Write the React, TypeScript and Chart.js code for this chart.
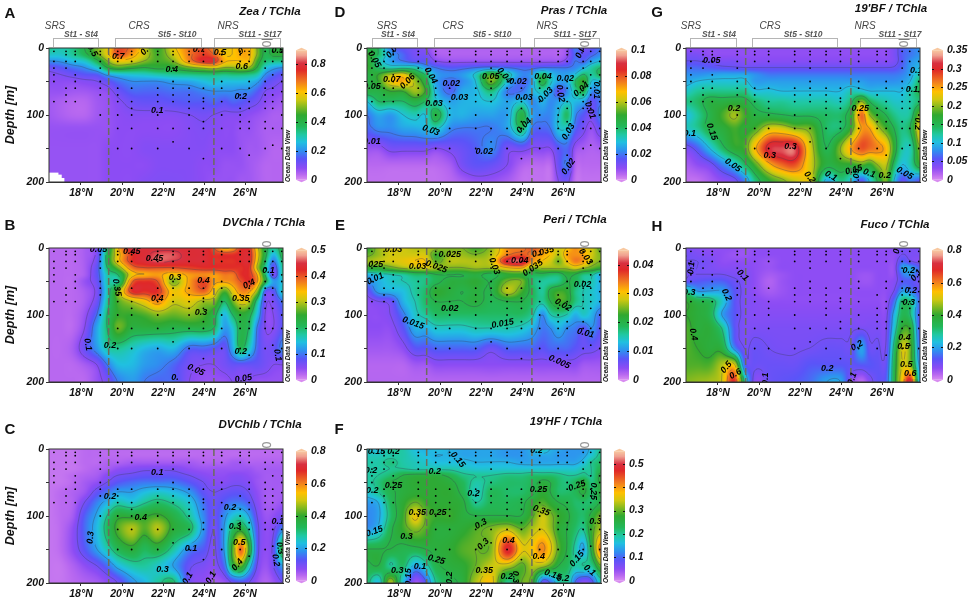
import { Chart, registerables, type Plugin } from 'chart.js';
import { useEffect, useRef, type FC } from 'react';

Chart.register(...registerables);

const FONT = '"Liberation Sans", Arial, sans-serif';

// grid the contour sections were read on
const gridLats = [16.44, 17, 17.6, 18.2, 18.8, 19.3, 19.8, 20.5, 21.1, 21.75, 22.5, 23.3, 24, 24.5, 25, 25.4, 25.8, 26.2, 26.6, 27, 27.4, 27.85];
const gridDepths = [0, 10, 20, 30, 40, 50, 65, 80, 100, 120, 150, 175, 200];

const stationLats = [16.68, 17.27, 17.72, 18.94, 19.79, 20.47, 21.74, 22.49, 23.27, 23.97, 24.86, 25.76, 26.2, 26.98, 27.35, 27.79];
const stationDepths = [
  [5, 20, 30, 40, 50, 80],
  [5, 10, 20, 30, 60, 70, 80],
  [5, 10, 20, 40, 50, 60, 80],
  [5, 10, 20, 30, 50, 60, 70, 100],
  [5, 10, 20, 60, 70, 80, 100, 120, 150],
  [5, 10, 20, 60, 80, 90, 100, 120, 150],
  [5, 10, 20, 60, 70, 80, 100, 120, 150],
  [5, 10, 20, 30, 50, 60, 70, 80, 120, 140],
  [5, 10, 20, 60, 70, 80, 90, 100, 120, 150],
  [5, 10, 20, 60, 75, 80, 90, 110, 120, 165],
  [5, 10, 20, 50, 60, 80, 100, 120, 150],
  [5, 10, 20, 70, 90, 100, 110, 120, 150],
  [5, 10, 20, 50, 60, 80, 90, 110, 120, 160],
  [5, 20, 30, 50, 60, 70, 80, 90, 110, 120, 150],
  [5, 20, 40, 60, 70, 80, 90, 120, 145],
  [5, 20, 40, 50, 65, 80, 100, 120, 150],
];
const latTicks = [18, 20, 22, 24, 26];
const depthTicks = [0, 50, 100, 150, 200];
const regionBounds = [19.35, 24.48];

const zeaValues = [
  [.33, .3, .33, .4, .5, .58, .72, .68, .55, .45, .58, .68, .72, .65, .58, .6, .63, .62, .5, .38, .42, .42],
  [.28, .28, .32, .38, .48, .58, .72, .64, .55, .46, .55, .68, .74, .7, .6, .6, .63, .62, .5, .38, .42, .42],
  [.2, .21, .25, .28, .38, .5, .58, .56, .5, .46, .5, .66, .76, .75, .62, .6, .6, .6, .45, .35, .33, .33],
  [.12, .14, .17, .2, .27, .4, .45, .42, .4, .42, .42, .48, .52, .54, .5, .5, .52, .5, .4, .27, .22, .2],
  [.09, .1, .12, .14, .15, .22, .25, .27, .28, .3, .32, .33, .34, .34, .33, .34, .34, .33, .3, .2, .16, .13],
  [.08, .08, .08, .09, .1, .13, .17, .2, .2, .2, .22, .23, .26, .28, .26, .26, .26, .25, .22, .15, .12, .1],
  [.07, .07, .06, .06, .07, .08, .12, .16, .16, .16, .17, .17, .19, .2, .2, .2, .19, .19, .15, .1, .09, .08],
  [.06, .05, .04, .04, .06, .07, .09, .12, .13, .13, .14, .15, .15, .16, .14, .16, .15, .13, .11, .08, .07, .06],
  [.06, .05, .04, .04, .06, .07, .08, .09, .09, .09, .09, .1, .11, .1, .09, .09, .09, .08, .07, .06, .05, .05],
  [.07, .07, .07, .07, .07, .07, .08, .08, .08, .08, .08, .09, .095, .09, .08, .08, .07, .07, .06, .05, .05, .05],
  [.07, .07, .07, .07, .07, .08, .08, .08, .09, .09, .09, .09, .09, .08, .08, .08, .07, .06, .06, .05, .04, .04],
  [.07, .07, .07, .07, .07, .08, .08, .08, .08, .09, .09, .09, .08, .08, .07, .07, .07, .06, .05, .04, .04, .04],
  [.07, .07, .07, .07, .07, .08, .08, .08, .09, .095, .095, .09, .08, .07, .07, .07, .06, .06, .05, .04, .04, .04],
];
const dvChlaValues = [
  [.02, .02, .02, .03, .06, .2, .34, .45, .44, .44, .44, .44, .44, .4, .34, .36, .42, .42, .32, .22, .18, .22],
  [.02, .02, .02, .03, .06, .22, .33, .42, .44, .46, .46, .44, .44, .42, .42, .42, .43, .43, .33, .22, .14, .22],
  [.02, .02, .02, .03, .07, .22, .33, .42, .44, .46, .45, .44, .44, .42, .42, .42, .43, .43, .32, .2, .1, .2],
  [.02, .02, .02, .03, .08, .2, .27, .38, .4, .4, .4, .41, .42, .42, .42, .42, .42, .42, .3, .18, .07, .18],
  [.02, .02, .02, .03, .08, .17, .2, .33, .35, .36, .33, .36, .37, .36, .38, .38, .42, .42, .35, .2, .06, .18],
  [.02, .02, .02, .04, .07, .17, .18, .39, .42, .4, .28, .36, .41, .36, .36, .37, .4, .42, .36, .22, .12, .15],
  [.02, .02, .02, .03, .06, .17, .28, .42, .42, .42, .33, .36, .39, .33, .26, .32, .37, .36, .28, .08, .08, .16],
  [.02, .02, .02, .03, .07, .18, .26, .3, .33, .37, .31, .32, .29, .28, .2, .27, .32, .3, .18, .06, .06, .1],
  [.02, .02, .02, .04, .1, .2, .25, .25, .26, .28, .27, .28, .26, .22, .14, .2, .24, .22, .14, .05, .05, .08],
  [.02, .02, .02, .05, .13, .2, .27, .23, .23, .23, .22, .22, .22, .2, .12, .15, .22, .2, .1, .05, .05, .08],
  [.02, .02, .03, .07, .12, .17, .18, .16, .14, .13, .14, .09, .09, .08, .07, .13, .21, .16, .09, .06, .07, .11],
  [.02, .02, .02, .03, .05, .1, .14, .14, .12, .11, .09, .06, .05, .05, .06, .07, .07, .07, .07, .06, .05, .05],
  [.02, .02, .02, .02, .04, .06, .1, .12, .1, .09, .09, .05, .04, .04, .04, .05, .05, .05, .04, .04, .04, .04],
];
const dvChlbValues = [
  [.02, .02, .02, .03, .03, .03, .03, .03, .03, .03, .03, .03, .03, .03, .03, .03, .03, .03, .03, .03, .03, .03],
  [.02, .02, .02, .03, .03, .03, .03, .03, .03, .03, .03, .03, .03, .03, .03, .03, .03, .03, .03, .03, .03, .03],
  [.02, .02, .02, .03, .03, .04, .04, .05, .05, .05, .05, .05, .04, .04, .04, .05, .05, .04, .04, .04, .04, .04],
  [.02, .02, .02, .03, .04, .05, .07, .08, .09, .09, .09, .07, .06, .06, .06, .06, .06, .06, .05, .05, .05, .05],
  [.02, .02, .03, .04, .05, .08, .1, .11, .12, .12, .12, .1, .08, .07, .07, .08, .08, .07, .06, .05, .05, .05],
  [.02, .02, .03, .05, .07, .1, .13, .15, .16, .16, .16, .13, .1, .08, .08, .09, .09, .08, .06, .05, .05, .05],
  [.02, .03, .04, .06, .12, .16, .2, .2, .23, .25, .23, .19, .12, .1, .11, .12, .12, .1, .07, .05, .05, .05],
  [.02, .03, .04, .1, .17, .22, .27, .25, .29, .32, .29, .24, .15, .11, .14, .16, .16, .13, .08, .05, .05, .06],
  [.02, .03, .05, .14, .21, .3, .38, .38, .39, .41, .36, .28, .17, .11, .18, .24, .26, .2, .1, .06, .07, .1],
  [.02, .03, .07, .15, .23, .33, .42, .48, .42, .48, .38, .33, .18, .1, .2, .33, .38, .28, .12, .07, .09, .18],
  [.02, .03, .07, .13, .2, .27, .34, .38, .33, .36, .28, .17, .13, .09, .2, .42, .62, .4, .13, .07, .12, .38],
  [.02, .02, .04, .07, .1, .15, .22, .27, .28, .25, .2, .11, .09, .08, .15, .36, .42, .25, .1, .06, .1, .2],
  [.02, .02, .03, .04, .05, .07, .1, .18, .22, .28, .32, .1, .07, .05, .06, .1, .12, .1, .06, .04, .06, .1],
];
const prasValues = [
  [.045, .04, .02, .015, .012, .01, .005, .005, .005, .005, .005, .005, .005, .005, .005, .005, .005, .008, .02, .012, .015, .02],
  [.05, .04, .025, .018, .012, .012, .006, .005, .005, .005, .005, .005, .005, .005, .005, .005, .005, .008, .018, .015, .018, .022],
  [.05, .035, .025, .02, .016, .016, .01, .008, .008, .008, .008, .008, .008, .008, .008, .008, .008, .012, .02, .018, .025, .03],
  [.05, .04, .035, .037, .035, .025, .02, .017, .018, .02, .022, .02, .018, .018, .02, .02, .02, .02, .022, .028, .035, .04],
  [.045, .05, .06, .065, .05, .04, .025, .022, .024, .032, .052, .035, .022, .025, .04, .03, .025, .025, .03, .04, .035, .042],
  [.045, .05, .065, .07, .058, .045, .025, .018, .022, .03, .055, .03, .018, .025, .045, .032, .025, .026, .04, .05, .03, .03],
  [.045, .045, .05, .05, .058, .05, .028, .018, .026, .028, .038, .02, .02, .027, .032, .025, .015, .022, .035, .042, .022, .025],
  [.03, .04, .04, .04, .045, .04, .032, .025, .027, .028, .03, .025, .03, .022, .027, .022, .025, .03, .028, .025, .015, .02],
  [.02, .026, .024, .03, .033, .03, .045, .028, .027, .025, .025, .025, .045, .025, .022, .022, .03, .04, .022, .016, .012, .022],
  [.018, .022, .022, .025, .026, .028, .032, .022, .02, .02, .02, .025, .04, .02, .018, .02, .03, .03, .018, .012, .008, .014],
  [.008, .008, .012, .012, .012, .012, .01, .012, .014, .017, .022, .012, .013, .01, .01, .01, .016, .018, .008, .006, .005, .006],
  [.004, .004, .004, .004, .004, .004, .004, .006, .012, .015, .014, .01, .005, .004, .004, .004, .014, .02, .005, .004, .004, .004],
  [.003, .003, .003, .003, .003, .003, .003, .004, .006, .008, .008, .006, .003, .003, .003, .003, .01, .012, .003, .003, .003, .003],
];
const periValues = [
  [.022, .026, .028, .028, .027, .027, .026, .025, .025, .023, .026, .033, .034, .036, .033, .03, .028, .03, .033, .03, .028, .024],
  [.024, .026, .028, .028, .028, .028, .023, .026, .026, .025, .027, .034, .036, .034, .032, .03, .027, .032, .033, .032, .028, .025],
  [.026, .027, .028, .029, .03, .03, .024, .027, .027, .027, .028, .04, .041, .033, .03, .028, .025, .03, .034, .032, .027, .025],
  [.022, .022, .024, .026, .027, .028, .026, .025, .025, .026, .026, .03, .031, .025, .026, .026, .026, .026, .028, .026, .024, .022],
  [.012, .014, .015, .016, .018, .018, .02, .02, .02, .021, .019, .022, .022, .019, .019, .018, .018, .021, .02, .017, .016, .012],
  [.01, .012, .014, .015, .016, .017, .019, .021, .021, .022, .02, .025, .025, .018, .016, .016, .017, .02, .019, .016, .015, .012],
  [.006, .011, .012, .013, .016, .018, .022, .021, .02, .021, .02, .027, .023, .019, .016, .021, .023, .022, .017, .015, .014, .012],
  [.004, .005, .006, .012, .015, .018, .02, .02, .02, .021, .019, .02, .02, .018, .016, .02, .023, .022, .017, .015, .014, .012],
  [.004, .004, .005, .009, .014, .016, .018, .018, .018, .018, .018, .018, .018, .016, .01, .015, .016, .015, .012, .014, .012, .008],
  [.004, .004, .004, .007, .012, .012, .014, .014, .014, .015, .015, .015, .014, .012, .009, .01, .012, .01, .009, .007, .01, .007],
  [.003, .003, .003, .004, .007, .007, .008, .008, .008, .008, .006, .008, .008, .008, .007, .008, .008, .008, .007, .006, .006, .005],
  [.002, .002, .002, .002, .003, .003, .004, .004, .004, .004, .004, .004, .004, .004, .004, .004, .004, .004, .004, .003, .003, .003],
  [.002, .002, .002, .002, .002, .002, .002, .002, .002, .002, .002, .002, .002, .002, .002, .002, .002, .002, .002, .002, .002, .002],
];
const hfValues = [
  [.17, .16, .2, .19, .16, .15, .16, .15, .14, .14, .14, .13, .13, .15, .18, .15, .14, .13, .13, .13, .16, .2],
  [.18, .18, .19, .19, .17, .16, .15, .15, .14, .14, .14, .13, .13, .14, .14, .14, .13, .13, .13, .14, .17, .21],
  [.19, .19, .21, .19, .18, .17, .16, .16, .16, .15, .15, .15, .14, .14, .14, .14, .14, .14, .14, .16, .2, .22],
  [.19, .19, .2, .2, .19, .19, .19, .19, .18, .17, .17, .17, .17, .17, .17, .17, .17, .17, .17, .19, .2, .24],
  [.19, .2, .22, .25, .26, .26, .26, .24, .21, .2, .2, .21, .21, .22, .22, .22, .21, .2, .2, .21, .2, .26],
  [.19, .21, .25, .26, .27, .27, .27, .26, .23, .19, .21, .22, .22, .23, .26, .25, .22, .21, .23, .26, .21, .26],
  [.17, .2, .24, .26, .27, .27, .27, .27, .24, .18, .23, .22, .22, .24, .27, .25, .22, .22, .23, .26, .22, .26],
  [.13, .15, .23, .27, .3, .28, .27, .27, .26, .2, .23, .23, .24, .27, .29, .27, .25, .24, .22, .22, .22, .25],
  [.12, .14, .22, .28, .36, .3, .28, .28, .26, .25, .25, .25, .25, .29, .34, .31, .28, .26, .23, .22, .26, .31],
  [.13, .16, .24, .28, .31, .29, .26, .26, .27, .29, .31, .34, .3, .33, .35, .32, .27, .25, .22, .2, .28, .33],
  [.25, .25, .25, .24, .24, .25, .26, .27, .29, .3, .31, .48, .36, .37, .41, .36, .29, .25, .19, .14, .26, .42],
  [.24, .25, .2, .22, .14, .18, .24, .26, .27, .3, .34, .33, .29, .33, .32, .29, .25, .23, .19, .2, .2, .3],
  [.22, .16, .33, .16, .04, .09, .2, .24, .26, .33, .37, .2, .3, .28, .08, .1, .18, .2, .1, .05, .08, .18],
];
const bfValues = [
  [.03, .03, .03, .03, .03, .03, .03, .03, .03, .03, .03, .03, .03, .03, .03, .03, .03, .03, .04, .06, .07, .08],
  [.04, .04, .03, .03, .03, .03, .03, .03, .03, .03, .03, .03, .03, .03, .03, .03, .03, .03, .04, .06, .07, .08],
  [.05, .05, .045, .04, .04, .035, .035, .035, .035, .035, .035, .035, .035, .035, .035, .035, .035, .035, .04, .06, .08, .09],
  [.065, .065, .06, .055, .052, .05, .05, .05, .05, .05, .05, .05, .05, .05, .05, .05, .05, .05, .052, .065, .085, .1],
  [.08, .08, .085, .09, .09, .09, .08, .07, .07, .07, .07, .07, .07, .07, .07, .07, .07, .07, .07, .075, .09, .12],
  [.09, .1, .105, .105, .105, .105, .085, .085, .085, .085, .085, .085, .085, .085, .085, .08, .08, .08, .08, .085, .1, .14],
  [.11, .125, .13, .13, .13, .13, .105, .105, .1, .1, .1, .1, .1, .115, .11, .1, .1, .1, .1, .1, .12, .15],
  [.13, .14, .16, .16, .165, .16, .14, .125, .125, .12, .12, .12, .115, .14, .2, .15, .13, .12, .11, .11, .12, .14],
  [.1, .125, .155, .18, .205, .18, .16, .155, .15, .145, .145, .14, .14, .17, .27, .2, .17, .15, .13, .12, .13, .2],
  [.11, .125, .155, .165, .18, .17, .18, .22, .22, .2, .19, .14, .14, .18, .25, .25, .21, .18, .15, .13, .15, .23],
  [.04, .06, .1, .14, .17, .18, .24, .31, .32, .32, .22, .15, .2, .25, .28, .27, .26, .24, .17, .12, .12, .2],
  [.02, .03, .04, .07, .1, .14, .18, .24, .27, .28, .22, .16, .17, .17, .18, .17, .2, .21, .14, .1, .12, .17],
  [.01, .01, .02, .03, .04, .07, .13, .17, .19, .21, .22, .09, .13, .1, .05, .1, .15, .19, .1, .05, .07, .05],
];
const fucoValues = [
  [.09, .08, .07, .07, .07, .06, .07, .07, .07, .07, .07, .07, .07, .07, .07, .07, .07, .07, .08, .1, .09, .09],
  [.1, .09, .08, .07, .06, .06, .07, .07, .07, .07, .07, .07, .07, .07, .07, .07, .07, .07, .07, .1, .09, .09],
  [.1, .1, .09, .07, .07, .07, .07, .06, .07, .07, .07, .07, .07, .07, .07, .07, .07, .07, .07, .14, .1, .08],
  [.11, .1, .09, .08, .08, .08, .07, .06, .07, .07, .07, .07, .07, .07, .07, .07, .07, .07, .07, .2, .2, .14],
  [.1, .1, .1, .1, .09, .09, .07, .05, .06, .07, .07, .07, .07, .07, .06, .06, .07, .07, .07, .16, .18, .12],
  [.12, .13, .14, .14, .11, .09, .07, .04, .06, .07, .07, .07, .07, .07, .06, .06, .07, .07, .08, .13, .13, .1],
  [.3, .2, .2, .2, .13, .09, .07, .05, .06, .07, .07, .07, .07, .07, .07, .07, .07, .07, .1, .2, .17, .12],
  [.4, .36, .34, .25, .13, .09, .08, .07, .07, .07, .07, .07, .07, .07, .07, .07, .07, .07, .16, .32, .3, .14],
  [.4, .38, .35, .2, .13, .09, .08, .08, .08, .08, .08, .08, .08, .08, .08, .08, .08, .08, .22, .34, .3, .12],
  [.42, .38, .38, .3, .13, .09, .09, .09, .09, .09, .09, .09, .09, .095, .095, .09, .09, .09, .25, .4, .38, .12],
  [.42, .4, .38, .37, .18, .1, .11, .1, .095, .095, .1, .11, .11, .11, .2, .11, .11, .1, .32, .5, .42, .15],
  [.42, .42, .42, .48, .52, .15, .11, .11, .11, .11, .13, .13, .13, .12, .13, .13, .12, .12, .35, .5, .45, .18],
  [.45, .46, .47, .5, .68, .3, .08, .11, .12, .13, .15, .2, .2, .08, .03, .08, .12, .14, .36, .55, .7, .2],
];

type ContourLabel = [number, number, string, number?];

const zeaLabels: ContourLabel[] = [
  [19.82, 12, '0.7'], [23.76, 2, '0.7'], [24.78, 6, '0.5'], [25.84, 27, '0.6'], [22.42, 32, '0.4'],
  [25.79, 72, '0.2'], [21.72, 93, '0.1'], [18.55, 4, '0.5', 60], [21.1, 5, '0.', -45], [25.85, 4, '0.', -30], [27.6, 4, '0.5'],
];
const dvChlaLabels: ContourLabel[] = [
  [20.47, 5, '0.45'], [21.58, 16, '0.45'], [22.58, 44, '0.3'], [23.97, 49, '0.4'], [26.2, 54, '0.4', -25],
  [21.72, 75, '0.4'], [19.74, 59, '0.35', 80], [25.79, 76, '0.35'], [23.85, 96, '0.3'], [19.41, 146, '0.2'],
  [18.33, 144, '0.1', 80], [25.79, 154, '0.2'], [23.6, 182, '0.05', 25], [25.92, 195, '0.05', -10],
  [22.58, 193, '0.'], [27.14, 33, '0.1'], [27.58, 160, '0.1', 80], [18.85, 3, '0.05'],
];
const dvChlbLabels: ContourLabel[] = [
  [21.72, 35, '0.1'], [19.41, 71, '0.2'], [20.91, 103, '0.4'], [18.47, 132, '0.3', -85], [25.27, 88, '0.2'],
  [25.51, 115, '0.3'], [25.72, 140, '0.5'], [25.63, 173, '0.4', -50], [21.97, 180, '0.3'], [23.37, 148, '0.1'],
  [23.2, 193, '0.1', -60], [24.34, 192, '0.1', -60], [27.6, 108, '0.1'], [27.5, 166, '0.2', 80], [27.7, 148, '0.3', 80],
];
const prasLabels: ContourLabel[] = [
  [16.79, 17, '0.05', 60], [16.68, 57, '0.05'], [17.65, 47, '0.07'], [18.42, 50, '0.06', -45], [17.65, 6, '0.0', -50],
  [19.55, 41, '0.04', 60], [20.55, 53, '0.02'], [20.95, 74, '0.03'], [19.71, 83, '0.03'], [19.55, 123, '0.03', 20],
  [22.48, 43, '0.05'], [23.13, 41, '0.04', 50], [23.8, 50, '0.02'], [24.1, 74, '0.03'], [24.1, 116, '0.04', -45],
  [25.02, 42, '0.04'], [26.11, 46, '0.02'], [25.15, 70, '0.03', -45], [25.87, 68, '0.02', 80], [26.89, 62, '0.04', -40],
  [27.32, 93, '0.01', 70], [26.27, 125, '0.03', -60], [22.16, 154, '0.02'], [26.27, 177, '0.02', -55],
  [16.68, 140, '0.01'], [27.64, 63, '0.01', 90], [26.84, 6, '0.0', -70],
];
const periLabels: ContourLabel[] = [
  [17.73, 3, '0.03'], [20.48, 9, '0.025'], [18.9, 27, '0.03'], [19.82, 28, '0.025', 20], [16.68, 25, '0.025'],
  [22.65, 27, '0.03', 70], [23.89, 18, '0.04'], [24.53, 30, '0.035', -35], [25.02, 6, '0.035', -15], [27.1, 13, '0.03', 55],
  [16.84, 46, '0.01', -25], [26.95, 54, '0.02'], [26, 85, '0.02', 30], [20.48, 91, '0.02'], [18.69, 112, '0.015', 20],
  [23.05, 113, '0.015', -10], [27.1, 127, '0.01', 15], [25.82, 170, '0.005', 25],
];
const hfLabels: ContourLabel[] = [
  [16.9, 4, '0.15'], [17.73, 4, '0.2'], [24.7, 3, '0.2'], [20.87, 16, '0.15', 50], [19.74, 34, '0.2'], [16.63, 32, '0.2'],
  [17.73, 55, '0.25'], [16.7, 62, '0.2'], [21.63, 67, '0.2'], [24.8, 60, '0.25'], [26.68, 55, '0.25', -20], [18.89, 95, '0.35'],
  [19.89, 95, '0.25'], [24.94, 92, '0.35', 20], [22, 112, '0.3', -30], [27.58, 108, '0.3'], [16.8, 123, '0.15', -20],
  [18.37, 130, '0.3'], [22.11, 142, '0.3', -45], [23.34, 137, '0.4'], [24.82, 161, '0.4'], [19.82, 165, '0.25', 15],
  [22.16, 182, '0.35'], [17.92, 181, '0.3'], [19.02, 175, '0.1'], [18.45, 191, '0.15', -90], [20.45, 192, '0.2', -90],
  [25.5, 188, '0.15', 20], [26, 194, '0.2'], [26.68, 164, '0.15', -50], [27.5, 63, '0.25', 90], [23.26, 190, '0.2'],
  [23.69, 191, '0.3', 90], [27.3, 181, '0.1', 40],
];
const bfLabels: ContourLabel[] = [
  [17.7, 18, '0.05'], [18.78, 90, '0.2'], [17.7, 125, '0.15', 70], [16.62, 128, '0.1'], [18.73, 175, '0.05', 35],
  [21.53, 147, '0.3'], [20.52, 161, '0.3'], [24.94, 91, '0.25'], [22.47, 193, '0.2', 50], [23.5, 191, '0.1', 30],
  [24.62, 182, '0.15', -15], [24.75, 193, '0.05', -90], [25.37, 187, '0.1', 20], [26.13, 190, '0.2'], [27.1, 187, '0.05', 30],
  [27.46, 62, '0.1'], [27.75, 113, '0.2', 90], [27.67, 33, '0.1'],
];
const fucoLabels: ContourLabel[] = [
  [16.7, 30, '0.1', -85], [19.2, 41, '0.1', 45], [16.6, 66, '0.3'], [18.41, 70, '0.2', 65], [16.8, 129, '0.4', 80],
  [18.41, 178, '0.5', -50], [18.85, 188, '0.6', -30], [20.3, 195, '0.1', -90], [23.33, 180, '0.2'], [24.78, 146, '0.2', -30],
  [24.55, 195, '0.1', -70], [27.3, 34, '0.2'], [27.67, 41, '0.1', -50], [27.4, 63, '0.2'], [27.3, 81, '0.3'], [27.1, 134, '0.4'],
  [27.05, 147, '0.5'], [27.18, 174, '0.5'], [27.38, 188, '0.6'], [26.72, 5, '0', -80],
];

const zeaNoData = [[16.9, 186], [17.06, 189], [17.19, 194]];

// Ocean Data View rainbow, position on the bar -> colour
const paletteStops: [number, string][] = [
  [0, '#d88cf0'], [.04, '#b868f0'], [.09, '#8c4cf4'], [.16, '#5a54f8'], [.224, '#2f8ff0'], [.29, '#20c0e0'], [.35, '#20c8a0'],
  [.41, '#22b85a'], [.5, '#30a830'], [.56, '#80b820'], [.62, '#d0c810'], [.68, '#ffc000'], [.76, '#f07820'], [.85, '#e02828'],
  [.9, '#d83040'], [.96, '#f0a090'], [1, '#f8c8a0'],
];

const rgbOf = (hex: string) => [1, 3, 5].map((i) => parseInt(hex.slice(i, i + 2), 16));
const colorAt = (t: number) => {
  const v = Math.min(1, Math.max(0, t));
  let i = 0;
  while (i < paletteStops.length - 2 && paletteStops[i + 1][0] < v) i++;
  const [a, ca] = paletteStops[i];
  const [b, cb] = paletteStops[i + 1];
  const k = (v - a) / (b - a);
  const x = rgbOf(ca);
  const y = rgbOf(cb);
  return x.map((c, n) => c + (y[n] - c) * k);
};

const fractionIn = (arr: number[], v: number) => {
  if (v <= arr[0]) return 0;
  for (let i = 0; i < arr.length - 1; i++) {
    if (v <= arr[i + 1]) return i + (v - arr[i]) / (arr[i + 1] - arr[i]);
  }
  return arr.length - 1;
};

const spline = (a: number, b: number, c: number, d: number, t: number) =>
  b + 0.5 * t * (c - a + t * (2 * a - 5 * b + 4 * c - d + t * (3 * (b - c) + d - a)));

const sampleGrid = (rows: number[][], fx: number, fy: number) => {
  const ix = Math.min(Math.floor(fx), rows[0].length - 2);
  const iy = Math.min(Math.floor(fy), rows.length - 2);
  const line = (r: number) => {
    const row = rows[Math.max(0, Math.min(rows.length - 1, r))];
    const at = (c: number) => row[Math.max(0, Math.min(row.length - 1, c))];
    return spline(at(ix - 1), at(ix), at(ix + 1), at(ix + 2), fx - ix);
  };
  return Math.max(0, spline(line(iy - 1), line(iy), line(iy + 1), line(iy + 2), fy - iy));
};

type Spec = {
  letter: string;
  title: string;
  titleX: number;
  titleY: number;
  letterX: number;
  letterY: number;
  plotX: number;
  plotY: number;
  barX: number;
  max: number;
  barTicks: number[];
  levels: number[];
  values: number[][];
  labels: ContourLabel[];
  noData?: number[][];
  showDepth?: boolean;
  topMark?: boolean;
};

const panels: Spec[] = [
  { letter: 'A', title: 'Zea / TChla', titleX: 270, titleY: 12, letterX: 10, letterY: 12, plotX: 49, plotY: 48, barX: 296, max: .894, barTicks: [0, .2, .4, .6, .8], levels: [.1, .2, .4, .5, .6, .7], values: zeaValues, labels: zeaLabels, noData: zeaNoData, showDepth: true, topMark: true },
  { letter: 'B', title: 'DVChla / TChla', titleX: 264, titleY: 223, letterX: 10, letterY: 224, plotX: 49, plotY: 248, barX: 296, max: .5, barTicks: [0, .1, .2, .3, .4, .5], levels: [.05, .1, .2, .3, .35, .4, .45], values: dvChlaValues, labels: dvChlaLabels, showDepth: true },
  { letter: 'C', title: 'DVChlb / TChla', titleX: 260, titleY: 425, letterX: 10, letterY: 428, plotX: 49, plotY: 449, barX: 296, max: .8, barTicks: [0, .2, .4, .6, .8], levels: [.1, .2, .3, .4, .5], values: dvChlbValues, labels: dvChlbLabels, showDepth: true },
  { letter: 'D', title: 'Pras / TChla', titleX: 574, titleY: 11, letterX: 340, letterY: 11, plotX: 367, plotY: 48, barX: 616, max: .1, barTicks: [0, .02, .04, .06, .08, .1], levels: [.01, .02, .03, .04, .05, .06, .07], values: prasValues, labels: prasLabels, topMark: true },
  { letter: 'E', title: 'Peri / TChla', titleX: 575, titleY: 220, letterX: 340, letterY: 224, plotX: 367, plotY: 248, barX: 618, max: .045, barTicks: [0, .01, .02, .03, .04], levels: [.005, .01, .015, .02, .025, .03, .035, .04], values: periValues, labels: periLabels },
  { letter: 'F', title: "19'HF / TChla", titleX: 566, titleY: 422, letterX: 339, letterY: 428, plotX: 367, plotY: 449, barX: 614, max: .553, barTicks: [0, .1, .2, .3, .4, .5], levels: [.1, .15, .2, .25, .3, .35, .4], values: hfValues, labels: hfLabels },
  { letter: 'G', title: "19'BF / TChla", titleX: 891, titleY: 9, letterX: 657, letterY: 11, plotX: 686, plotY: 48, barX: 932, max: .35, barTicks: [0, .05, .1, .15, .2, .25, .3, .35], levels: [.05, .1, .15, .2, .25, .3], values: bfValues, labels: bfLabels, topMark: true },
  { letter: 'H', title: 'Fuco / TChla', titleX: 895, titleY: 225, letterX: 657, letterY: 225, plotX: 686, plotY: 248, barX: 932, max: .8, barTicks: [0, .2, .4, .6, .8], levels: [.1, .2, .3, .4, .5, .6], values: fucoValues, labels: fucoLabels },
];

// header brackets above the top row: left, right
const brackets = [[53, 99], [115, 202], [214, 281], [372, 418], [434, 521], [534, 600], [690, 737], [752, 838], [860, 917]];
const regionNames: [string, number][] = [['SRS', 55], ['CRS', 139], ['NRS', 228], ['SRS', 387], ['CRS', 453], ['NRS', 547], ['SRS', 691], ['CRS', 770], ['NRS', 865]];
const stationNames: [string, number][] = [['St1 - St4', 81], ['St5 - St10', 177], ['St11 - St17', 260], ['St1 - St4', 398], ['St5 - St10', 492], ['St11 - St17', 575], ['St1 - St4', 719], ['St5 - St10', 803], ['St11 - St17', 900]];

const sectionPlugin = (spec: Spec): Plugin<'scatter'> => ({
  id: 'section',
  beforeDatasetsDraw(chart) {
    const { ctx, chartArea: area, scales } = chart;
    const w = Math.round(area.width);
    const h = Math.round(area.height);
    const field = new Float32Array(w * h);
    const fxs = Array.from({ length: w }, (_, i) => fractionIn(gridLats, scales.x.getValueForPixel(area.left + i + 0.5) as number));
    const fys = Array.from({ length: h }, (_, i) => fractionIn(gridDepths, scales.y.getValueForPixel(area.top + i + 0.5) as number));
    const off = document.createElement('canvas');
    off.width = w;
    off.height = h;
    const octx = off.getContext('2d') as CanvasRenderingContext2D;
    const img = octx.createImageData(w, h);
    for (let y = 0; y < h; y++) {
      for (let x = 0; x < w; x++) {
        const v = sampleGrid(spec.values, fxs[x], fys[y]);
        field[y * w + x] = v;
        const c = colorAt(v / spec.max);
        const p = (y * w + x) * 4;
        img.data[p] = c[0];
        img.data[p + 1] = c[1];
        img.data[p + 2] = c[2];
        img.data[p + 3] = 255;
      }
    }
    octx.putImageData(img, 0, 0);
    ctx.save();
    ctx.drawImage(off, area.left, area.top, area.width, area.height);

    (spec.noData ?? []).forEach(([lat, depth]) => {
      const px = scales.x.getPixelForValue(lat);
      const py = scales.y.getPixelForValue(depth);
      ctx.fillStyle = '#fff';
      ctx.fillRect(area.left, py, px - area.left, area.bottom - py);
    });

    // contour lines, with a gap left under each label
    ctx.font = `italic bold 9px ${FONT}`;
    const clip = new Path2D();
    clip.rect(area.left, area.top, area.width, area.height);
    spec.labels.forEach(([lat, depth, text, angle]) => {
      const px = scales.x.getPixelForValue(lat);
      const py = scales.y.getPixelForValue(depth);
      const hw = ctx.measureText(text).width / 2 + 1;
      const a = ((angle ?? 0) * Math.PI) / 180;
      const corners = [[-hw, -5], [hw, -5], [hw, 5], [-hw, 5]].map(([x, y]) => [px + x * Math.cos(a) - y * Math.sin(a), py + x * Math.sin(a) + y * Math.cos(a)]);
      corners.forEach(([x, y], i) => (i ? clip.lineTo(x, y) : clip.moveTo(x, y)));
      clip.closePath();
    });
    ctx.save();
    ctx.clip(clip, 'evenodd');
    ctx.strokeStyle = 'rgba(60,60,85,0.42)';
    ctx.lineWidth = 0.8;
    const step = 2;
    const at = (x: number, y: number) => field[Math.min(h - 1, y) * w + Math.min(w - 1, x)];
    spec.levels.forEach((level) => {
      ctx.beginPath();
      for (let y = 0; y < h - 1; y += step) {
        for (let x = 0; x < w - 1; x += step) {
          const a = at(x, y);
          const b = at(x + step, y);
          const c = at(x + step, y + step);
          const d = at(x, y + step);
          const pts: number[][] = [];
          if (a < level !== b < level) pts.push([x + (step * (level - a)) / (b - a), y]);
          if (b < level !== c < level) pts.push([x + step, y + (step * (level - b)) / (c - b)]);
          if (d < level !== c < level) pts.push([x + (step * (level - d)) / (c - d), y + step]);
          if (a < level !== d < level) pts.push([x, y + (step * (level - a)) / (d - a)]);
          for (let i = 0; i + 1 < pts.length; i += 2) {
            ctx.moveTo(area.left + pts[i][0], area.top + pts[i][1]);
            ctx.lineTo(area.left + pts[i + 1][0], area.top + pts[i + 1][1]);
          }
        }
      }
      ctx.stroke();
    });
    ctx.restore();
    ctx.restore();
  },
  afterDatasetsDraw(chart) {
    const { ctx, chartArea: area, scales } = chart;
    ctx.save();
    ctx.beginPath();
    ctx.rect(area.left, area.top, area.width, area.height);
    ctx.clip();
    ctx.fillStyle = '#000';
    ctx.font = `italic bold 9px ${FONT}`;
    ctx.textAlign = 'center';
    ctx.textBaseline = 'middle';
    spec.labels.forEach(([lat, depth, text, angle]) => {
      ctx.save();
      ctx.translate(scales.x.getPixelForValue(lat), scales.y.getPixelForValue(depth));
      ctx.rotate(((angle ?? 0) * Math.PI) / 180);
      ctx.fillText(text, 0, 0);
      ctx.restore();
    });
    ctx.restore();

    ctx.save();
    ctx.strokeStyle = '#333';
    ctx.lineWidth = 1;
    ctx.strokeRect(area.left, area.top, area.width, area.height);
    // ship track mark above the northern stations
    const mark = scales.x.getPixelForValue(27.05);
    ctx.strokeStyle = '#999';
    ctx.lineWidth = 1.2;
    ctx.beginPath();
    ctx.ellipse(mark, area.top - 4, 4, 2.3, 0, 0, Math.PI * 2);
    ctx.stroke();
    if (spec.topMark) {
      ctx.strokeStyle = '#222';
      ctx.beginPath();
      ctx.moveTo(mark - 5, area.top - 9);
      ctx.lineTo(mark + 6, area.top - 9);
      ctx.stroke();
    }
    ctx.fillStyle = '#111';
    ctx.font = `italic bold 6.5px ${FONT}`;
    ctx.textAlign = 'left';
    ctx.textBaseline = 'middle';
    ctx.translate(area.right + 5, area.bottom);
    ctx.rotate(-Math.PI / 2);
    ctx.fillText('Ocean Data View', 0, 0);
    ctx.restore();
  },
});

const Section: FC<{ spec: Spec }> = ({ spec }) => {
  const canvasRef = useRef<HTMLCanvasElement>(null);

  useEffect(() => {
    if (!canvasRef.current) {
      return;
    }
    const dots = stationLats.flatMap((lat, i) => stationDepths[i].map((depth) => ({ x: lat, y: depth })));
    const chart = new Chart(canvasRef.current, {
      type: 'scatter',
      data: {
        datasets: [
          ...regionBounds.map((lat) => ({
            data: [{ x: lat, y: 0 }, { x: lat, y: 200 }],
            showLine: true,
            pointRadius: 0,
            borderColor: '#6d6d5c',
            borderWidth: 1.5,
            borderDash: [7, 3],
          })),
          { data: dots, pointRadius: 0.9, pointBackgroundColor: '#000', pointBorderWidth: 0 },
        ],
      },
      options: {
        animation: false,
        responsive: false,
        devicePixelRatio: 1,
        layout: { padding: { top: 48, right: 16 } },
        plugins: { legend: { display: false }, tooltip: { enabled: false } },
        scales: {
          x: {
            type: 'linear',
            min: 16.44,
            max: 27.85,
            afterBuildTicks: (s) => {
              s.ticks = latTicks.map((value) => ({ value }));
            },
            afterFit: (s) => {
              s.height = 26;
            },
            grid: { drawOnChartArea: false, tickLength: 3, color: '#333' },
            border: { color: '#333' },
            ticks: { maxRotation: 0, autoSkip: false, padding: 2, color: '#111', font: { family: FONT, size: 10.5, style: 'italic', weight: 'bold' }, callback: (v) => `${v}°N` },
          },
          y: {
            reverse: true,
            min: 0,
            max: 200,
            afterBuildTicks: (s) => {
              s.ticks = depthTicks.map((value) => ({ value }));
            },
            afterFit: (s) => {
              s.width = 49;
            },
            grid: { drawOnChartArea: false, tickLength: 3, color: '#333' },
            border: { color: '#333' },
            title: { display: !!spec.showDepth, text: 'Depth [m]', color: '#111', padding: { top: 3, bottom: 0 }, font: { family: FONT, size: 12.5, style: 'italic', weight: 'bold' } },
            ticks: { autoSkip: false, padding: 2, color: '#111', font: { family: FONT, size: 10.5, style: 'italic', weight: 'bold' }, callback: (v) => (Number(v) % 100 === 0 ? String(v) : '') },
          },
        },
      },
      plugins: [sectionPlugin(spec)],
    });

    return () => {
      chart.destroy();
    };
  }, [spec]);

  return <canvas ref={canvasRef} width={299} height={208} style={{ position: 'absolute', left: spec.plotX - 49, top: spec.plotY - 48 }} />;
};

const capsPlugin = (spec: Spec): Plugin<'bar'> => ({
  id: 'caps',
  afterDatasetsDraw(chart) {
    const { ctx, chartArea: area, scales } = chart;
    const mid = (area.left + area.right) / 2;
    ctx.save();
    ctx.fillStyle = '#f8c8a0';
    ctx.beginPath();
    ctx.moveTo(area.left, area.top);
    ctx.lineTo(mid, area.top - 2.5);
    ctx.lineTo(area.right, area.top);
    ctx.fill();
    ctx.fillStyle = '#d88cf0';
    ctx.beginPath();
    ctx.moveTo(area.left, area.bottom);
    ctx.lineTo(mid, area.bottom + 2.5);
    ctx.lineTo(area.right, area.bottom);
    ctx.fill();
    ctx.strokeStyle = '#111';
    ctx.beginPath();
    spec.barTicks.forEach((value) => {
      if (value === 0 || value === spec.max) return;
      const y = Math.round(scales.y.getPixelForValue(value)) + 0.5;
      ctx.moveTo(area.left, y);
      ctx.lineTo(area.left + 2, y);
      ctx.moveTo(area.right - 2, y);
      ctx.lineTo(area.right, y);
    });
    ctx.stroke();
    ctx.restore();
  },
});

const ColorBar: FC<{ spec: Spec }> = ({ spec }) => {
  const canvasRef = useRef<HTMLCanvasElement>(null);

  useEffect(() => {
    if (!canvasRef.current) {
      return;
    }
    const chart = new Chart(canvasRef.current, {
      type: 'bar',
      data: {
        labels: [''],
        datasets: [
          {
            data: [[0, spec.max]],
            barPercentage: 1,
            categoryPercentage: 1,
            backgroundColor: (c) => {
              const area = c.chart.chartArea;
              if (!area) return '#888';
              const g = c.chart.ctx.createLinearGradient(0, area.bottom, 0, area.top);
              paletteStops.forEach(([t, color]) => g.addColorStop(t, color));
              return g;
            },
          },
        ],
      },
      options: {
        animation: false,
        responsive: false,
        devicePixelRatio: 1,
        layout: { padding: { top: 8, bottom: 8 } },
        plugins: { legend: { display: false }, tooltip: { enabled: false } },
        scales: {
          x: { display: false },
          y: {
            position: 'right',
            min: 0,
            max: spec.max,
            afterBuildTicks: (s) => {
              s.ticks = spec.barTicks.map((value) => ({ value }));
            },
            afterFit: (s) => {
              s.width = 29;
            },
            grid: { display: false, drawTicks: false },
            border: { display: false },
            ticks: { autoSkip: false, padding: 4, color: '#111', font: { family: FONT, size: 10.5, style: 'italic', weight: 'bold' }, callback: (v) => String(v) },
          },
        },
      },
      plugins: [capsPlugin(spec)],
    });

    return () => {
      chart.destroy();
    };
  }, [spec]);

  return <canvas ref={canvasRef} width={40} height={150} style={{ position: 'absolute', left: spec.barX, top: spec.plotY - 8 }} />;
};

const textStyle = (x: number, y: number, font: string, color = '#111') => ({
  position: 'absolute' as const,
  left: x,
  top: y,
  transform: 'translate(-50%, -50%)',
  font,
  color,
  whiteSpace: 'nowrap' as const,
  lineHeight: 1,
});

export default function App() {
  return (
    <div style={{ position: 'absolute', left: 0, top: 0, width: 970, height: 601, overflow: 'hidden', background: '#fff' }}>
      {panels.map((spec) => (
        <div key={spec.letter}>
          <Section spec={spec} />
          <ColorBar spec={spec} />
          <span style={textStyle(spec.letterX, spec.letterY, `bold 15px ${FONT}`)}>{spec.letter}</span>
          <span style={textStyle(spec.titleX, spec.titleY, `italic bold 11.5px ${FONT}`)}>{spec.title}</span>
        </div>
      ))}
      {brackets.map(([left, right]) => (
        <div key={left} style={{ position: 'absolute', left, top: 38, width: right - left, height: 9, border: '1px solid #b5b5b5', borderBottom: 'none', boxSizing: 'border-box' }} />
      ))}
      {regionNames.map(([name, x]) => (
        <span key={x} style={textStyle(x, 26, `italic 10px ${FONT}`, '#444')}>{name}</span>
      ))}
      {stationNames.map(([name, x]) => (
        <span key={x} style={textStyle(x, 34, `italic bold 8.5px ${FONT}`, '#555')}>{name}</span>
      ))}
    </div>
  );
}
